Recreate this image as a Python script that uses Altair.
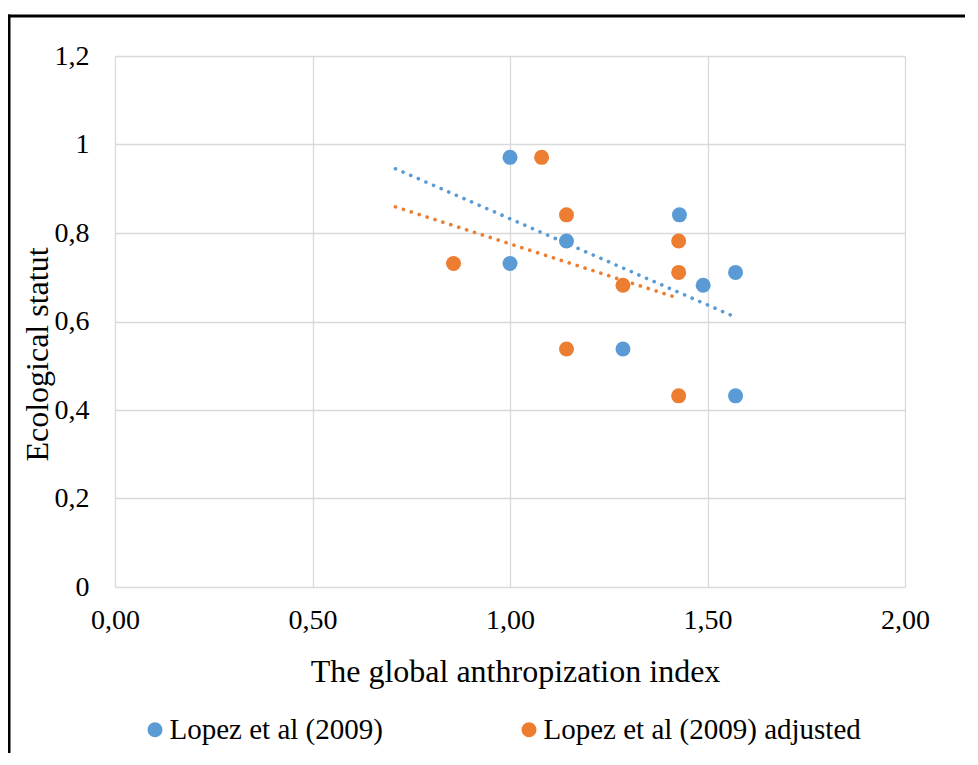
import altair as alt
import pandas as pd

series_names = ["Lopez et al (2009)", "Lopez et al (2009) adjusted"]
series_colors = ["#5B9BD5", "#ED7D31"]

blue_x = [1.000, 1.000, 1.143, 1.429, 1.286, 1.489, 1.571, 1.571]
blue_y = [0.971, 0.731, 0.782, 0.841, 0.538, 0.682, 0.711, 0.432]

orange_x = [0.857, 1.080, 1.143, 1.143, 1.286, 1.427, 1.427, 1.427]
orange_y = [0.731, 0.971, 0.841, 0.538, 0.682, 0.782, 0.711, 0.432]

blue_trend_extent = [0.71, 1.566]
orange_trend_extent = [0.71, 1.413]

x_ticks = [0, 0.5, 1.0, 1.5, 2.0]
y_ticks = [0, 0.2, 0.4, 0.6, 0.8, 1.0, 1.2]

rows = []
for x, y in zip(blue_x, blue_y):
    rows.append({"x": x, "y": y, "series": series_names[0]})
for x, y in zip(orange_x, orange_y):
    rows.append({"x": x, "y": y, "series": series_names[1]})
df = pd.DataFrame(rows)

FONT = "Liberation Serif"

x_enc = alt.X(
    "x:Q",
    scale=alt.Scale(domain=[0, 2], nice=False, zero=True),
    axis=alt.Axis(
        values=x_ticks,
        labelExpr="replace(format(datum.value, '.2f'), '.', ',')",
        title="The global anthropization index",
        grid=True,
        ticks=False,
        domain=False,
        labelFlush=False,
        labelBaseline="alphabetic",
        labelPadding=41,
        labelFontSize=28,
        labelFont=FONT,
        labelColor="#000000",
        titleFont=FONT,
        titleFontSize=32,
        titleFontWeight="normal",
        titleColor="#000000",
        titleX=400,
        titleY=94,
        titleBaseline="alphabetic",
        titleAlign="center",
    ),
)
y_enc = alt.Y(
    "y:Q",
    scale=alt.Scale(domain=[0, 1.2], nice=False, zero=True),
    axis=alt.Axis(
        values=y_ticks,
        labelExpr="replace(format(datum.value, '~g'), '.', ',')",
        title="Ecological statut",
        grid=True,
        ticks=False,
        domain=False,
        labelFlush=False,
        labelPadding=26,
        labelFontSize=28,
        labelFont=FONT,
        labelColor="#000000",
        titleFont=FONT,
        titleFontSize=32,
        titleFontWeight="normal",
        titleColor="#000000",
        titleAngle=270,
        titleX=-68,
        titleY=298,
        titleBaseline="alphabetic",
        titleAlign="center",
    ),
)

base = alt.Chart(df)

points = base.mark_circle(size=225, opacity=1).encode(
    x=x_enc,
    y=y_enc,
    color=alt.Color(
        "series:N",
        scale=alt.Scale(domain=series_names, range=series_colors),
        legend=alt.Legend(
            title=None,
            orient="none",
            direction="horizontal",
            legendX=25.5,
            legendY=659,
            padding=0,
            columnPadding=131,
            symbolType="circle",
            symbolSize=225,
            symbolStrokeWidth=0,
            labelOffset=0,
            labelFont=FONT,
            labelFontSize=29,
            labelColor="#000000",
            labelLimit=600,
        ),
    ),
)

dot_style = dict(strokeWidth=3.6, strokeDash=[0.1, 8.2], strokeCap="round")

blue_trend = (
    base.transform_filter(alt.datum.series == series_names[0])
    .transform_regression("x", "y", extent=blue_trend_extent)
    .mark_line(color=series_colors[0], **dot_style)
    .encode(x="x:Q", y="y:Q")
)
orange_trend = (
    base.transform_filter(alt.datum.series == series_names[1])
    .transform_regression("x", "y", extent=orange_trend_extent)
    .mark_line(color=series_colors[1], **dot_style)
    .encode(x="x:Q", y="y:Q")
)

frame_data = alt.Data(values=[{}])
frame_top = alt.Chart(frame_data).mark_rule(color="#000000", strokeWidth=3).encode(
    x=alt.value(-107), x2=alt.value(860), y=alt.value(-40)
)
frame_left = alt.Chart(frame_data).mark_rule(color="#000000", strokeWidth=3).encode(
    x=alt.value(-106), y=alt.value(-41.5), y2=alt.value(700)
)

chart = (
    alt.layer(frame_top, frame_left, blue_trend, orange_trend, points)
    .properties(
        width=790,
        height=531,
        autosize=alt.AutoSizeParams(type="none"),
        padding={"left": 107, "top": 48, "right": 60, "bottom": 166},
        background="#ffffff",
    )
    .configure_view(stroke=None)
    .configure_axis(gridColor="#d9d9d9", gridWidth=1.3)
)

chart.save("out.html", embed_options={"renderer": "svg", "actions": False})
